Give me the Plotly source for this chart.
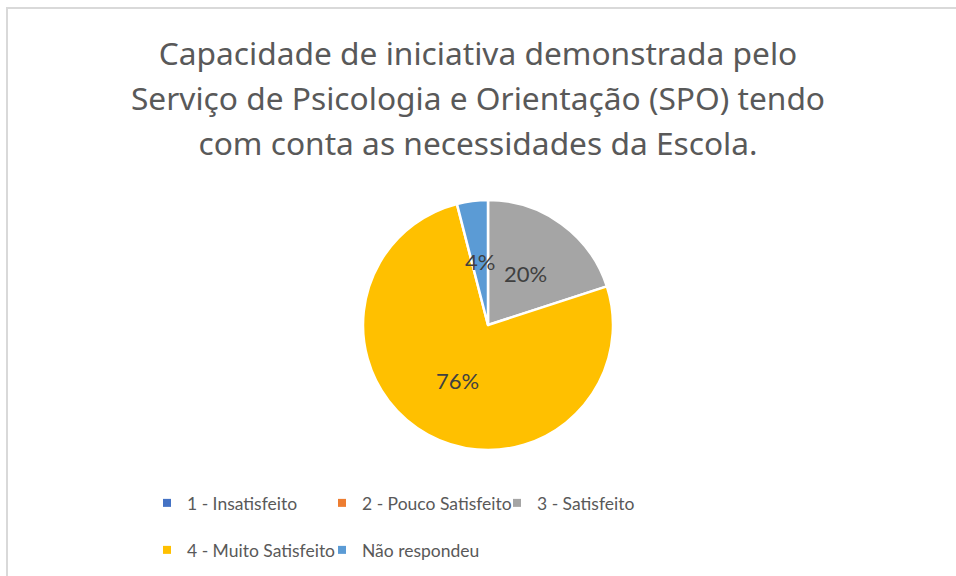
import plotly.graph_objects as go
import math

# ---- data ----
categories = ["1 - Insatisfeito", "2 - Pouco Satisfeito", "3 - Satisfeito",
              "4 - Muito Satisfeito", "Não respondeu"]
values = [0, 0, 20, 76, 4]
colors = ["#4472C4", "#ED7D31", "#A5A5A5", "#FFC000", "#5B9BD5"]
title_lines = ["Capacidade de iniciativa demonstrada pelo",
               "Serviço de Psicologia e Orientação (SPO) tendo",
               "com conta as necessidades da Escola."]
legend_rows = [[0, 1, 2], [3, 4]]

W, H = 956, 576
FONT = "Lato, 'Noto Sans', sans-serif"
TFONT = "'Noto Sans', Lato, sans-serif"

# pie geometry (pixels)
cx, cy, R = 488, 325, 125

fig = go.Figure()
fig.add_trace(go.Pie(
    labels=categories, values=values, sort=False, direction="clockwise",
    rotation=0, marker=dict(colors=colors, line=dict(color="white", width=2.5)),
    textinfo="none", hoverinfo="label+percent", showlegend=False,
    domain=dict(x=[(cx - R) / W, (cx + R) / W], y=[1 - (cy + R) / H, 1 - (cy - R) / H]),
))

# legend entries (two rows -> two legends)
for row_i, row in enumerate(legend_rows):
    lname = "legend" if row_i == 0 else "legend2"
    for i in row:
        fig.add_trace(go.Scatter(
            x=[None], y=[None], mode="markers", name=categories[i],
            marker=dict(symbol="square", size=8, color=colors[i]),
            legend=lname, showlegend=True, hoverinfo="skip",
        ))

# percentage labels, positioned from the data
total = sum(values)
cum = 0.0
annotations = []
for v in values:
    if v > 0:
        mid = (cum + v / 2) / total * 2 * math.pi
        rr = 0.51 * R
        px = cx + rr * math.sin(mid)
        py = cy - rr * math.cos(mid)
        annotations.append(dict(
            x=px / W, y=1 - py / H, xref="paper", yref="paper",
            text=f"{round(v / total * 100)}%", showarrow=False,
            font=dict(family=FONT, size=22, color="#404040"),
            xanchor="center", yanchor="middle",
        ))
    cum += v

title_text = "<br>".join(f"<span style='font-size:31.7px'>{t}</span>" for t in title_lines)

legend_common = dict(
    orientation="h", xref="paper", yref="paper", xanchor="left", yanchor="middle",
    font=dict(family=FONT, size=17.5, color="#595959"),
    entrywidth=130, entrywidthmode="pixels", itemwidth=30,
    bgcolor="rgba(0,0,0,0)", borderwidth=0, itemclick=False, itemdoubleclick=False,
)

fig.update_layout(
    width=W, height=H,
    margin=dict(l=0, r=0, t=0, b=0),
    paper_bgcolor="white", plot_bgcolor="white",
    title=dict(text=title_text, x=0.5, xanchor="center", xref="paper",
               y=1 - 65 / H, yanchor="middle", yref="paper",
               font=dict(family=TFONT, size=34.6, color="#595959")),
    xaxis=dict(visible=False), yaxis=dict(visible=False),
    legend=dict(x=147 / W, y=1 - 503 / H, **legend_common),
    legend2=dict(x=147 / W, y=1 - 550 / H, **legend_common),
    annotations=annotations,
    shapes=[dict(type="rect", xref="paper", yref="paper",
                 x0=7 / W, x1=1.05, y0=-0.05, y1=1 - 8 / H,
                 line=dict(color="#D9D9D9", width=2), fillcolor="rgba(0,0,0,0)")],
)

fig.write_html("out.html", config={"displayModeBar": False},
               post_script="document.body.style.margin='0';document.body.style.overflow='hidden';")
